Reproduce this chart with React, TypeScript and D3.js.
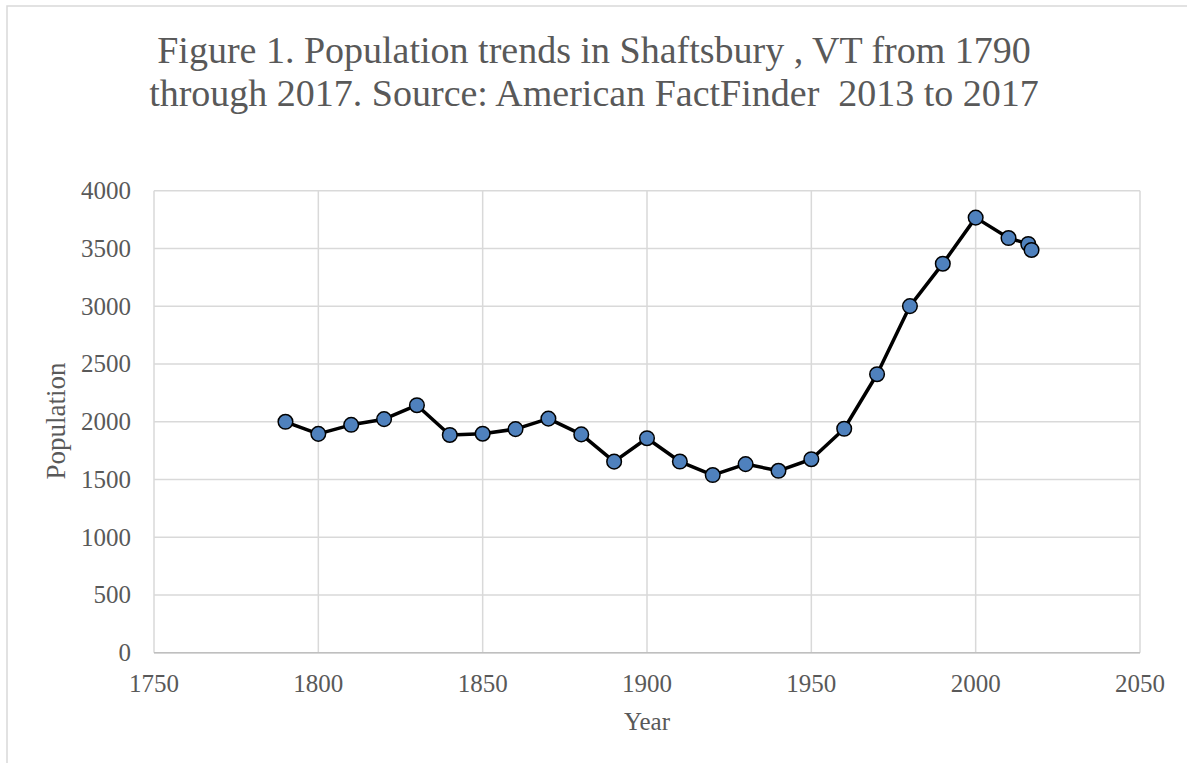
import React from "react";
import * as d3 from "d3";

const years = [1790, 1800, 1810, 1820, 1830, 1840, 1850, 1860, 1870, 1880, 1890, 1900, 1910, 1920, 1930, 1940, 1950, 1960, 1970, 1980, 1990, 2000, 2010, 2016, 2017];
const population = [1999, 1895, 1973, 2022, 2143, 1885, 1896, 1936, 2027, 1890, 1654, 1857, 1655, 1538, 1633, 1575, 1675, 1939, 2411, 3001, 3368, 3767, 3590, 3539, 3487];
const xTicks = [1750, 1800, 1850, 1900, 1950, 2000, 2050];
const yTicks = [0, 500, 1000, 1500, 2000, 2500, 3000, 3500, 4000];
const titleLines = [
  "Figure 1. Population trends in Shaftsbury , VT from 1790",
  "through 2017. Source: American FactFinder  2013 to 2017",
];

const W = 1187;
const H = 763;
const FONT = "'Liberation Serif', serif";
const TEXT = "#595959";

export default function App() {
  const x = d3.scaleLinear().domain([1750, 2050]).range([154, 1140]);
  const y = d3.scaleLinear().domain([0, 4000]).range([652.7, 190.7]);
  const pts = years.map((yr, i) => [yr, population[i]] as [number, number]);
  const line = d3
    .line<[number, number]>()
    .x((d) => x(d[0]))
    .y((d) => y(d[1]));

  return (
    <svg
      width={W}
      height={H}
      style={{ position: "absolute", left: 0, top: 0, background: "#fff" }}
    >
      <rect x={7} y={6} width={1200} height={800} fill="#fff" stroke="#d9d9d9" strokeWidth={1.5} />
      {titleLines.map((t, i) => (
        <text
          key={i}
          x={594}
          y={62.5 + i * 43.5}
          textAnchor="middle"
          fontFamily={FONT}
          fontSize={38}
          fill={TEXT}
          style={{ whiteSpace: "pre" }}
        >
          {t}
        </text>
      ))}
      {yTicks.map((t) => (
        <line key={"gy" + t} x1={154} x2={1140} y1={y(t)} y2={y(t)} stroke="#d9d9d9" strokeWidth={1.5} />
      ))}
      {xTicks.map((t) => (
        <line key={"gx" + t} x1={x(t)} x2={x(t)} y1={y(4000)} y2={y(0)} stroke="#d9d9d9" strokeWidth={1.5} />
      ))}
      <line x1={154} x2={1140} y1={y(0)} y2={y(0)} stroke="#bfbfbf" strokeWidth={1.5} />
      {yTicks.map((t) => (
        <text key={"ty" + t} x={131} y={y(t) + 8.5} textAnchor="end" fontFamily={FONT} fontSize={25} fill={TEXT}>
          {t}
        </text>
      ))}
      {xTicks.map((t) => (
        <text key={"tx" + t} x={x(t)} y={691.5} textAnchor="middle" fontFamily={FONT} fontSize={25} fill={TEXT}>
          {t}
        </text>
      ))}
      <text x={647} y={730} textAnchor="middle" fontFamily={FONT} fontSize={25} fill={TEXT}>
        Year
      </text>
      <text
        transform={`translate(65,421) rotate(-90)`}
        textAnchor="middle"
        fontFamily={FONT}
        fontSize={27}
        fill={TEXT}
      >
        Population
      </text>
      <path d={line(pts) || ""} fill="none" stroke="#000" strokeWidth={3.5} strokeLinejoin="round" />
      {pts.map((p, i) => (
        <circle key={i} cx={x(p[0])} cy={y(p[1])} r={7.3} fill="#4f81bd" stroke="#000" strokeWidth={1.5} />
      ))}
    </svg>
  );
}
